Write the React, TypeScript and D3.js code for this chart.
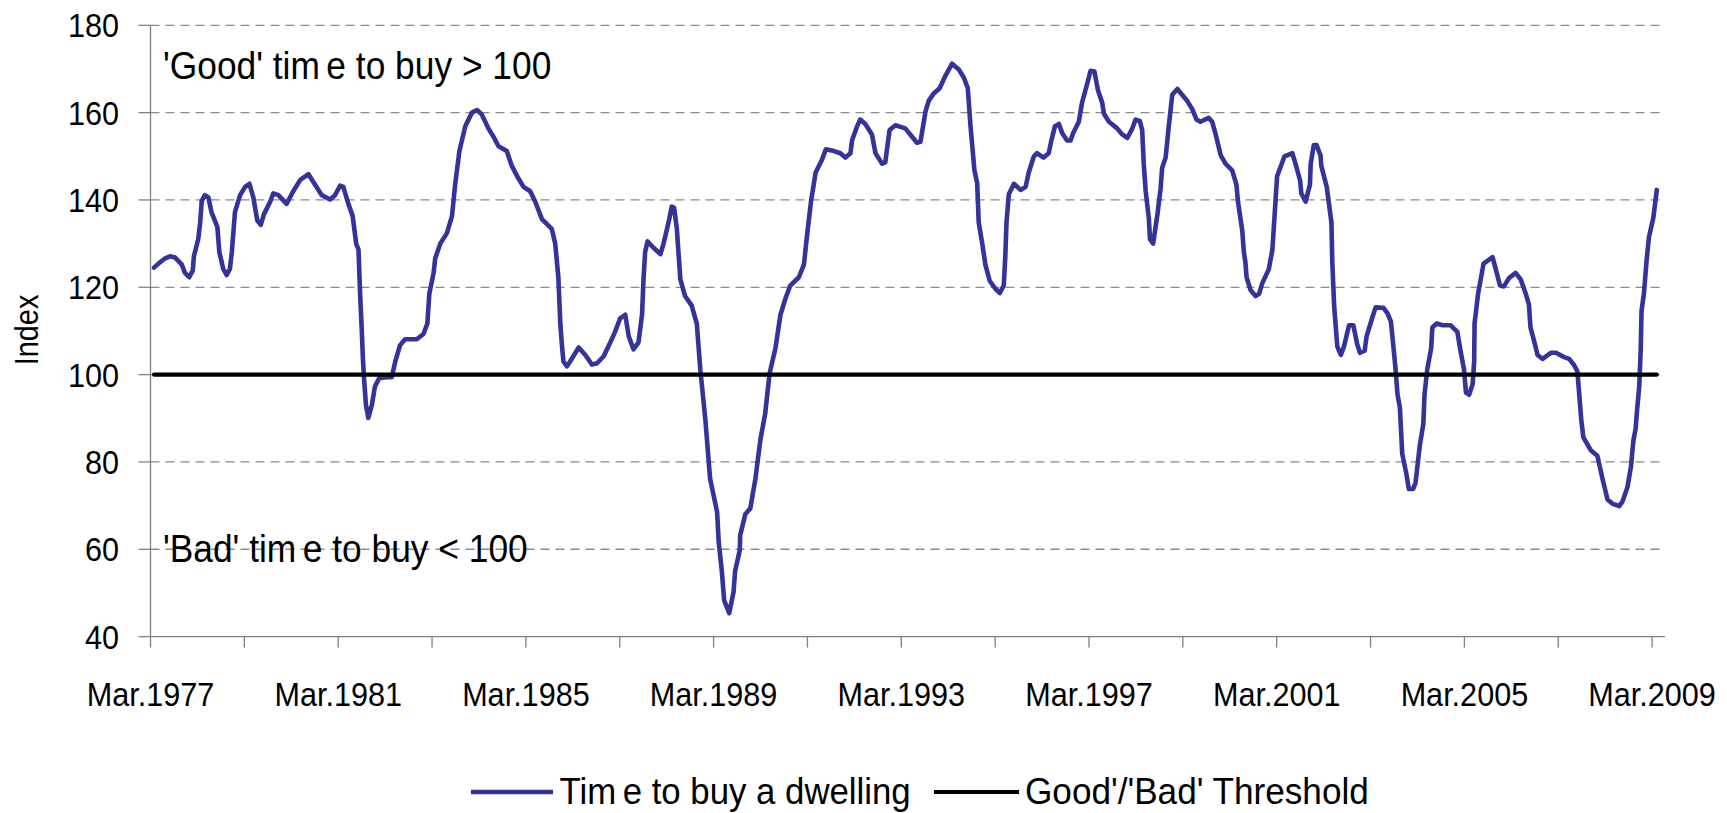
import React from "react";
import * as d3 from "d3";

// Months since March 1977 (traced positions) and index values
const months = [
  0.9, 2.4, 3.7, 5.0, 6.3, 8.0, 8.8, 9.9, 10.8, 11.1, 12.2, 12.7, 13.1, 13.9, 14.8, 15.6, 17.1, 17.6, 18.6, 19.5,
  20.3, 20.8, 21.6, 22.9, 24.2, 25.3, 26.3, 27.3, 28.2, 29.0, 30.6, 31.4, 32.7, 34.8, 36.5, 38.3, 40.4, 42.1, 43.8, 45.9,
  47.2, 48.5, 49.3, 50.6, 51.7, 52.6, 53.2, 53.6, 54.0, 54.3, 54.6, 55.1, 55.7, 56.6, 57.4, 58.5, 60.4, 61.7, 62.6, 63.8,
  65.1, 68.1, 69.8, 70.8, 71.3, 72.4, 72.8, 74.1, 75.8, 77.1, 77.9, 79.0, 80.5, 82.2, 83.5, 84.7, 86.4, 87.7, 89.0, 91.1,
  92.4, 94.1, 95.4, 97.1, 98.4, 100.1, 102.6, 103.5, 104.3, 104.8, 105.2, 105.6, 106.5, 107.3, 109.5, 111.2, 112.9, 114.2, 115.9, 117.6,
  118.8, 120.1, 121.4, 122.3, 123.5, 124.8, 125.7, 126.1, 126.5, 127.1, 128.7, 130.4, 131.2, 132.1, 132.7, 133.3, 133.9, 134.6, 135.5, 136.7,
  138.4, 139.7, 140.6, 141.9, 143.1, 144.9, 145.3, 146.1, 146.7, 148.0, 149.1, 149.5, 150.7, 150.8, 152.1, 153.4, 154.7, 156.0, 157.2, 158.3,
  159.8, 161.1, 162.4, 163.6, 165.8, 167.1, 167.9, 168.9, 170.1, 171.8, 172.7, 174.8, 176.4, 177.7, 179.0, 179.4, 180.7, 181.5, 182.8, 184.5,
  185.4, 187.1, 187.9, 189.0, 190.5, 193.0, 194.3, 196.0, 196.9, 198.2, 199.0, 200.3, 201.8, 203.3, 205.0, 206.7, 208.0, 209.0, 209.7, 210.7,
  211.4, 211.8, 212.7, 213.5, 214.6, 216.1, 217.2, 218.2, 218.6, 218.9, 219.5, 220.8, 222.5, 223.8, 224.6, 225.9, 226.7, 228.4, 229.7, 230.3,
  231.3, 232.3, 233.2, 234.4, 235.3, 235.9, 237.4, 238.2, 239.5, 240.4, 241.4, 242.3, 243.4, 243.8, 245.1, 247.2, 248.5, 249.8, 251.1, 251.9,
  253.0, 253.6, 254.0, 254.5, 255.3, 255.6, 256.4, 257.5, 258.3, 258.7, 259.6, 260.4, 261.3, 262.6, 263.8, 265.1, 266.4, 267.5, 268.5, 270.6,
  271.5, 272.4, 273.7, 274.9, 276.6, 277.7, 278.1, 279.2, 279.6, 280.0, 280.3, 281.3, 282.6, 283.5, 284.3, 286.0, 286.9, 288.1, 290.0, 292.0,
  292.8, 294.0, 294.3, 295.4, 296.5, 296.7, 297.5, 298.2, 299.2, 299.4, 300.8, 302.0, 302.2, 302.7, 303.5, 304.4, 305.2, 306.5, 307.6, 308.6,
  309.3, 310.5, 311.0, 312.5, 313.3, 315.3, 316.3, 317.2, 317.9, 318.4, 318.9, 319.5, 320.1, 321.2, 321.8, 322.9, 323.5, 324.6, 325.5, 325.8,
  326.5, 327.5, 327.8, 328.9, 330.4, 332.5, 334.2, 334.9, 335.9, 336.4, 337.2, 338.1, 338.5, 338.6, 339.5, 340.9, 343.2, 344.0, 345.1, 346.1,
  347.4, 349.1, 350.4, 351.7, 352.5, 352.9, 354.2, 354.7, 356.0, 358.1, 359.4, 361.5, 362.8, 364.1, 364.9, 365.3, 365.9, 366.4, 368.3, 370.0,
  371.3, 372.6, 373.9, 375.6, 376.4, 377.7, 378.6, 379.2, 379.8, 380.1, 380.7, 381.1, 381.3, 381.9, 382.6, 383.2, 384.3, 385.2,
];

const timeToBuy = [
  124.5, 125.7, 126.6, 127.1, 126.8, 125.2, 123.3, 122.3, 123.8, 127.1, 131, 134.8, 139.8, 141.1, 140.6, 137.2, 133.8, 128.1, 124.2, 122.8,
  124.2, 128.1, 137.2, 141.1, 143, 143.7, 140.6, 135.3, 134.3, 136.7, 139.6, 141.5, 141.1, 139.1, 142, 144.6, 145.9, 143.5, 141.1, 140.1,
  141.1, 143.3, 143, 139.1, 136.3, 130, 128.6, 118.5, 110.8, 104, 99.2, 93, 90.1, 93, 97.3, 99.2, 99.4, 99.4, 103, 106.7,
  108.1, 108.1, 109.3, 111.7, 118.5, 123.3, 126.6, 130, 132.4, 136.3, 143.5, 151.2, 156.9, 160, 160.6, 159.6, 156.4, 154.5, 152.3, 151.2,
  147.8, 144.9, 143, 142, 139.6, 135.6, 133.4, 130, 122.3, 111.7, 106.9, 103, 101.9, 103, 106.2, 104.5, 102.3, 102.6, 104.2, 107.4,
  109.8, 112.9, 113.7, 108.8, 105.8, 107.4, 113.7, 122.3, 128.1, 130.5, 129, 127.6, 130, 133.4, 135.8, 138.5, 138.2, 133.4, 121.8, 118,
  115.8, 111.7, 101.2, 89.6, 76.2, 68.5, 61.7, 55, 48.3, 45.4, 50.2, 55, 59.8, 63.2, 68, 69.4, 76.2, 85.3, 91.1, 100.2,
  106, 113.7, 117.5, 120.4, 122.3, 125.2, 131.9, 139.6, 146.3, 149.4, 151.6, 151.2, 150.7, 149.7, 150.7, 153.6, 156.9, 158.4, 157.4, 155,
  150.7, 148.3, 148.6, 156, 157.1, 156.4, 155, 153.1, 153.3, 160.3, 162.7, 164.4, 165.6, 168.5, 171.2, 169.9, 168, 165.6, 156.9, 146.8,
  143.9, 134.8, 130, 125.2, 121.5, 119.6, 118.7, 120.4, 127.1, 134.8, 141.3, 143.7, 142.3, 143, 146.3, 150, 150.7, 149.7, 150.7, 153.3,
  156.9, 157.4, 155.2, 153.6, 153.6, 155.2, 157.9, 162.2, 166.5, 169.6, 169.4, 165.1, 162.2, 159.8, 157.9, 156.4, 155, 154.2, 156.4, 158.4,
  158.1, 156, 148.3, 142, 135.8, 131, 130, 136.7, 142.5, 147.3, 149.7, 156.9, 164.1, 165.4, 164.1, 162.7, 160.8, 158.4, 157.9, 158.8,
  157.9, 155, 150.2, 148.3, 146.8, 143.5, 139.6, 132.9, 128.1, 125.7, 122.3, 119.4, 118, 118.5, 120.9, 124.2, 128.6, 145.4, 150, 150.7,
  148.3, 144.4, 141.5, 139.6, 143.5, 148.3, 152.6, 152.6, 150.2, 147.8, 143, 134.8, 126.2, 115.6, 106.4, 104.5, 106.4, 111.3, 111.3, 106.9,
  105, 105.5, 108.8, 113.2, 115.4, 115.3, 114.1, 112.2, 105.9, 101.2, 95.4, 92.5, 81.9, 77.1, 73.8, 73.8, 75.2, 83.8, 88.7, 95.4,
  101.2, 106, 110.8, 111.7, 111.3, 111.3, 109.8, 106, 101.2, 95.9, 95.4, 97.8, 103, 111.7, 118.5, 125.4, 126.9, 124.2, 120.4, 120.2,
  122.1, 123.3, 121.8, 118.5, 116.1, 110.8, 106.4, 104.5, 103.6, 105, 105, 104, 103.6, 102.1, 100.7, 96.2, 89.6, 85.7, 82.7, 81.4,
  76.2, 71.4, 70.4, 69.9, 70.9, 74.2, 79, 84.8, 87.7, 91.3, 97.1, 106, 114.6, 118.5, 126.2, 131.5, 135.8, 142.3,
];

const thresholdValue = 100;
const yTicks = [40, 60, 80, 100, 120, 140, 160, 180];
const xTickMonths = d3.range(0, 385, 24);
const xLabelYears = [1977, 1981, 1985, 1989, 1993, 1997, 2001, 2005, 2009];

const W = 1727;
const H = 813;
const FONT = "'Liberation Sans', Arial, sans-serif";

const x = d3.scaleLinear().domain([0, 387.3]).range([150.5, 1665]);
const y = d3.scaleLinear().domain([40, 180]).range([636.6, 25.3]);

function SText({
  x0,
  y0,
  size,
  sx,
  anchor = "start",
  rotate = 0,
  children,
}: {
  x0: number;
  y0: number;
  size: number;
  sx: number;
  anchor?: string;
  rotate?: number;
  children: React.ReactNode;
}) {
  return (
    <text
      transform={`translate(${x0},${y0}) rotate(${rotate}) scale(${sx},1)`}
      fontSize={size}
      fontFamily={FONT}
      textAnchor={anchor}
      fill="#000"
    >
      {children}
    </text>
  );
}

export default function App() {
  React.useEffect(() => {
    document.body.style.margin = "0";
    document.body.style.overflow = "hidden";
  }, []);

  const pts = months.map((m, i) => [m, timeToBuy[i]] as [number, number]);
  const line = d3
    .line<[number, number]>()
    .x((d) => x(d[0]))
    .y((d) => y(d[1]));
  const path = line(pts) || "";
  const thrPath =
    line([
      [months[0], thresholdValue],
      [months[months.length - 1], thresholdValue],
    ]) || "";

  const axisColor = "#808080";
  const blue = "#333399";

  return (
    <svg width={W} height={H} style={{ position: "absolute", left: 0, top: 0, background: "#fff" }}>
      <rect width={W} height={H} fill="#fff" />
      {/* gridlines */}
      {yTicks
        .filter((t) => t !== 40)
        .map((t) => (
          <line
            key={"g" + t}
            x1={x.range()[0]}
            x2={x.range()[1]}
            y1={y(t)}
            y2={y(t)}
            stroke="#8c8c8c"
            strokeWidth={1.3}
            strokeDasharray="9,6"
          />
        ))}
      {/* y axis */}
      <line x1={x.range()[0]} x2={x.range()[0]} y1={y(180)} y2={y(40)} stroke={axisColor} strokeWidth={1.3} />
      {yTicks.map((t) => (
        <g key={"yt" + t}>
          <line x1={x.range()[0] - 12} x2={x.range()[0]} y1={y(t)} y2={y(t)} stroke={axisColor} strokeWidth={1.3} />
          <SText x0={119} y0={y(t) + 12} size={34} sx={0.9} anchor="end">
            {t}
          </SText>
        </g>
      ))}
      {/* x axis */}
      <line x1={x.range()[0]} x2={x.range()[1]} y1={y(40)} y2={y(40)} stroke={axisColor} strokeWidth={1.3} />
      {xTickMonths.map((m) => (
        <line key={"xt" + m} x1={x(m)} x2={x(m)} y1={y(40)} y2={y(40) + 11} stroke={axisColor} strokeWidth={1.3} />
      ))}
      {xLabelYears.map((yr) => (
        <SText key={"xl" + yr} x0={x((yr - 1977) * 12)} y0={706} size={34} sx={0.9} anchor="middle">
          {"Mar." + yr}
        </SText>
      ))}
      {/* y axis title */}
      <SText x0={38} y0={330} size={34} sx={0.85} anchor="middle" rotate={-90}>
        Index
      </SText>
      {/* annotations */}
      <SText x0={163} y0={79} size={38} sx={0.93}>
        'Good' tim<tspan dx={7}>e to buy &gt; 100</tspan>
      </SText>
      <SText x0={163} y0={561.5} size={38} sx={0.93}>
        'Bad' tim<tspan dx={7}>e to buy &lt; 100</tspan>
      </SText>
      {/* series */}
      <path d={path} fill="none" stroke={blue} strokeWidth={4.6} strokeLinejoin="round" strokeLinecap="round" />
      <path d={thrPath} fill="none" stroke="#000" strokeWidth={4.2} strokeLinecap="round" />
      {/* legend */}
      <line x1={471} x2={553} y1={792} y2={792} stroke={blue} strokeWidth={4.6} />
      <SText x0={559.5} y0={804} size={37} sx={0.94}>
        Tim<tspan dx={7}>e to buy a dwelling</tspan>
      </SText>
      <line x1={934} x2={1019} y1={792} y2={792} stroke="#000" strokeWidth={4.2} />
      <SText x0={1025} y0={804} size={37} sx={0.95}>
        Good'/'Bad' Threshold
      </SText>
    </svg>
  );
}
